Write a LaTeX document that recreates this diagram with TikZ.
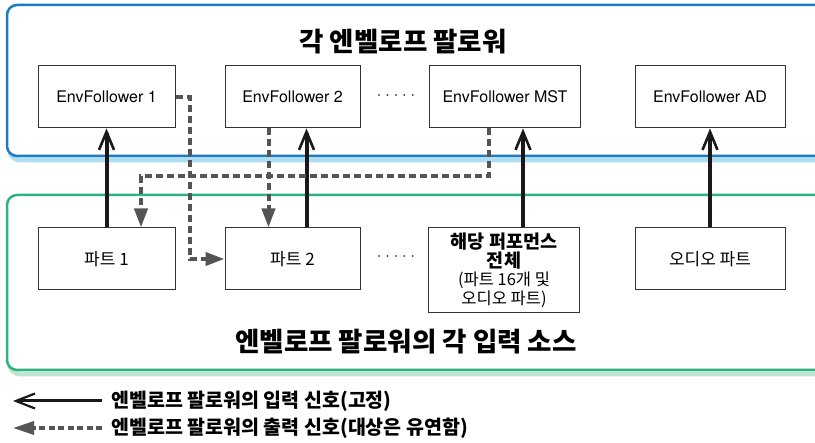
\documentclass[tikz,border=0pt]{standalone}
\usepackage{fontspec}
\setmainfont{TeX Gyre Heros}
\newfontfamily\kr{Noto Sans CJK KR}
\usetikzlibrary{arrows.meta,calc}
\definecolor{panelblue}{HTML}{1A7CC1}
\definecolor{shadeblue}{HTML}{AEDDF5}
\definecolor{panelgreen}{HTML}{2DB37F}
\definecolor{shadegreen}{HTML}{BEE5D2}
\definecolor{dashgray}{HTML}{555555}
\definecolor{boxline}{HTML}{333333}
\tikzset{
  unitbox/.style={draw=boxline, line width=1pt, fill=white, minimum width=137pt, minimum height=62pt, inner sep=0pt, align=center, font=\fontsize{16}{19}\selectfont},
  solidarr/.style={line width=4pt, draw=black!90, -{Straight Barb[length=18pt,width=15pt,line width=2.6pt]}},
  dasharr/.style={line width=4pt, draw=dashgray, dash pattern=on 7pt off 4pt, -{Triangle[length=19pt,width=13pt,fill=dashgray]}},
  bigtitle/.style={font=\kr\bfseries\fontsize{26.5}{30}\selectfont},
  legendtext/.style={anchor=west, font=\kr\bfseries\fontsize{19.5}{22}\selectfont},
  dotsnode/.style={font=\fontsize{16}{19}\selectfont}
}
\begin{document}
\begin{tikzpicture}[x=1pt,y=-1pt]
\useasboundingbox (0,0) rectangle (815,443);
\clip (0,0) rectangle (815,443);
% panels
\draw[shadeblue, line width=5pt, rounded corners=10pt] (10,8) rectangle (850,160);
\draw[panelblue, fill=white, line width=2.5pt, rounded corners=10pt] (7,5) rectangle (850,156);
\draw[shadegreen, line width=5pt, rounded corners=10pt] (10,198) rectangle (850,374);
\draw[panelgreen, fill=white, line width=2.5pt, rounded corners=10pt] (7,195) rectangle (850,370);
% titles
\node[bigtitle] (ttop) at (403,42) {각 엔벨로프 팔로워};
\node[bigtitle] (tbot) at (406,342) {엔벨로프 팔로워의 각 입력 소스};
% envelope followers
\node[unitbox] (ef1) at (106.5,97) {EnvFollower 1};
\node[unitbox, minimum width=135pt] (ef2) at (292.5,97) {EnvFollower 2};
\node[unitbox, minimum width=151pt] (efm) at (505,97) {EnvFollower MST};
\node[unitbox, minimum width=150pt] (efa) at (710,97) {EnvFollower AD};
\node[dotsnode] (dots1) at (396,97) {·\hspace{4pt}·\hspace{4pt}·\hspace{4pt}·\hspace{4pt}·};
% sources
\node[unitbox, font=\kr\fontsize{17}{20}\selectfont] (p1) at (106.5,259) {파트 1};
\node[unitbox, minimum width=135pt, font=\kr\fontsize{17}{20}\selectfont] (p2) at (292.5,259) {파트 2};
\node[unitbox, minimum width=151pt, minimum height=85pt, font=\kr\fontsize{16.5}{18.5}\selectfont] (pall) at (504,270.5) {{\bfseries\fontsize{18.5}{19.5}\selectfont 해당 퍼포먼스}\\{\bfseries\fontsize{18.5}{19.5}\selectfont 전체}\\(파트 16개 및\\오디오 파트)};
\node[unitbox, minimum width=150pt, font=\kr\fontsize{17}{20}\selectfont] (pa) at (710,259) {오디오 파트};
\node[dotsnode] (dots2) at (396,258) {·\hspace{4pt}·\hspace{4pt}·\hspace{4pt}·\hspace{4pt}·};
% fixed input signals
\draw[solidarr] (p1.north) -- (ef1.south);
\draw[solidarr] ([xshift=14pt]p2.north) -- ([xshift=14pt]ef2.south);
\draw[solidarr] ([xshift=19pt]pall.north) -- ([xshift=18pt]efm.south);
\draw[solidarr] (pa.north) -- (efa.south);
% flexible output signals
\draw[dasharr] (ef1.east) -- ++(14,0) |- (p2.west);
\draw[dasharr] ([xshift=-24pt]ef2.south) -- ([xshift=-24pt]p2.north);
\draw[dasharr] ([xshift=-16pt]efm.south) -- ++(0,48) -| ([xshift=34.5pt]p1.north);
% legend
\node[legendtext] (leg1) at (108,401) {엔벨로프 팔로워의 입력 신호(고정)};
\node[legendtext] (leg2) at (108,428) {엔벨로프 팔로워의 출력 신호(대상은 유연함)};
\draw[line width=3pt, draw=black!90, -{Straight Barb[length=19pt,width=15pt,line width=2.2pt]}] ([xshift=-6pt]leg1.west) -- ++(-89,0);
\draw[line width=3.5pt, draw=dashgray, dash pattern=on 6pt off 3.5pt, -{Triangle[length=21pt,width=13pt,fill=dashgray]}] ([xshift=-6pt]leg2.west) -- ++(-89,0);
\end{tikzpicture}
\end{document}
